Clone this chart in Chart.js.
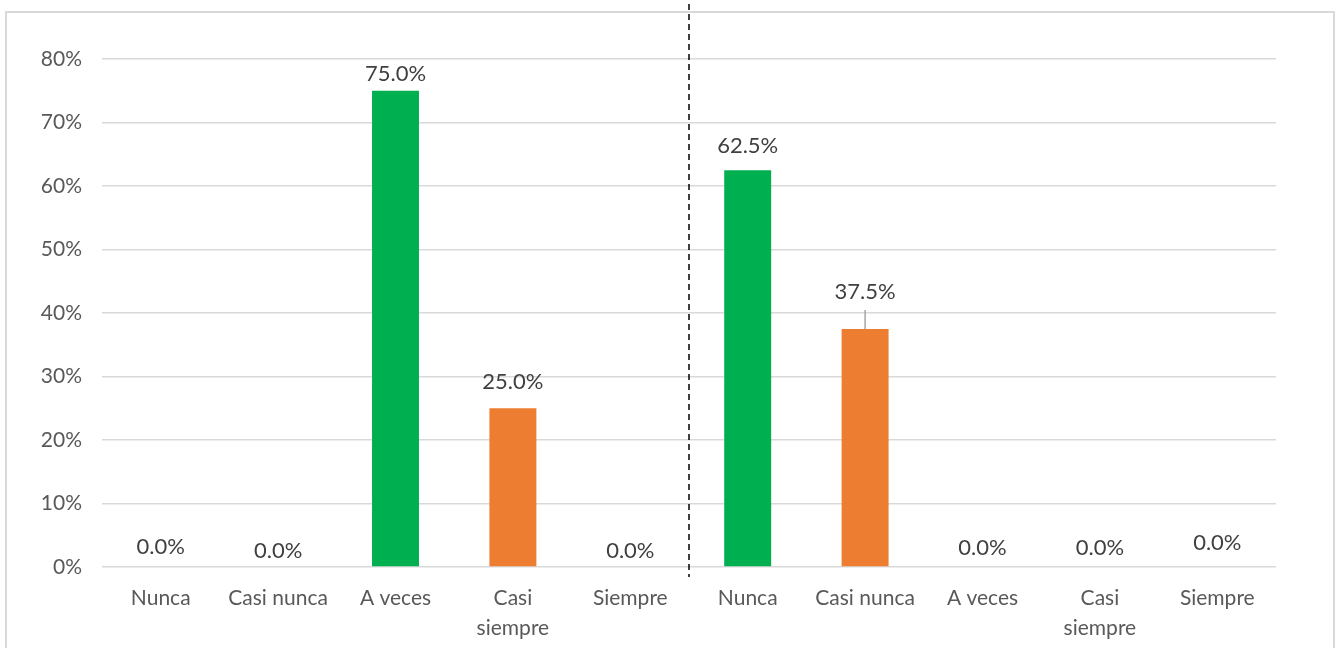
<!DOCTYPE html>
<html><head><meta charset="utf-8">
<script src="https://cdn.jsdelivr.net/npm/chart.js@4/dist/chart.umd.min.js"></script>
<style>html,body{margin:0;padding:0;background:#fff;}#wrap{width:1340px;height:648px;position:relative;}</style>
</head><body><div id="wrap"><canvas id="c" width="1340" height="648"></canvas></div>
<script>
const categories = ['Nunca','Casi nunca','A veces',['Casi','siempre'],'Siempre','Nunca','Casi nunca','A veces',['Casi','siempre'],'Siempre'];
const values = [0, 0, 75, 25, 0, 62.5, 37.5, 0, 0, 0];
const barColors = ['#00B050','#ED7D31','#00B050','#ED7D31','#00B050','#00B050','#ED7D31','#00B050','#ED7D31','#00B050'];
const yTicks = [0,10,20,30,40,50,60,70,80];
const labelLift = [20,16,17,26,16,24,37,19,19,24];
const FONT = 'Lato, "Open Sans", sans-serif';

const decor = {
  id:'decor',
  beforeDraw(chart){
    const ctx=chart.ctx;
    ctx.save();
    ctx.strokeStyle='#d9d9d9';ctx.lineWidth=2;
    ctx.strokeRect(6,12,1328,650);
    ctx.restore();
  },
  afterDatasetsDraw(chart){
    const ctx=chart.ctx, x=chart.scales.x, y=chart.scales.y;
    const meta=chart.getDatasetMeta(0);
    ctx.save();
    const xd=(x.getPixelForValue(4)+x.getPixelForValue(5))/2;
    ctx.strokeStyle='#000';ctx.lineWidth=1.5;ctx.setLineDash([6,4]);
    ctx.beginPath();ctx.moveTo(xd,4);ctx.lineTo(xd,577);ctx.stroke();
    ctx.setLineDash([]);
    ctx.font='22px '+FONT;ctx.fillStyle='#404040';ctx.textAlign='center';ctx.textBaseline='middle';
    values.forEach((v,i)=>{
      const bx=meta.data[i].x, by=y.getPixelForValue(v);
      const ly=by-labelLift[i];
      ctx.fillText(v.toFixed(1)+'%',bx,ly);
      if(labelLift[i]>30){
        ctx.strokeStyle='#a6a6a6';ctx.lineWidth=1.5;
        ctx.beginPath();ctx.moveTo(bx,ly+18);ctx.lineTo(bx,by);ctx.stroke();
      }
    });
    ctx.restore();
  }
};

new Chart(document.getElementById('c'),{
  type:'bar',
  data:{labels:categories,datasets:[{data:values,backgroundColor:barColors,barPercentage:0.4,categoryPercentage:1}]},
  options:{
    responsive:false,animation:false,
    layout:{padding:{left:0,right:64,top:59,bottom:0}},
    plugins:{legend:{display:false},tooltip:{enabled:false}},
    scales:{
      x:{grid:{display:false,drawTicks:false},border:{display:false},
         ticks:{color:'#595959',font:{family:FONT,size:21,lineHeight:1.43},padding:16,maxRotation:0,autoSkip:false},
         afterFit(s){s.height=81;}},
      y:{min:0,max:80,afterBuildTicks(s){s.ticks=yTicks.map(v=>({value:v}));},
         grid:{color:'#d9d9d9',lineWidth:1.5,drawTicks:false},border:{display:false},
         ticks:{color:'#595959',font:{family:FONT,size:21},padding:20,callback:v=>v+'%'},
         afterFit(s){s.width=102;}}
    }
  },
  plugins:[decor]
});
</script></body></html>
